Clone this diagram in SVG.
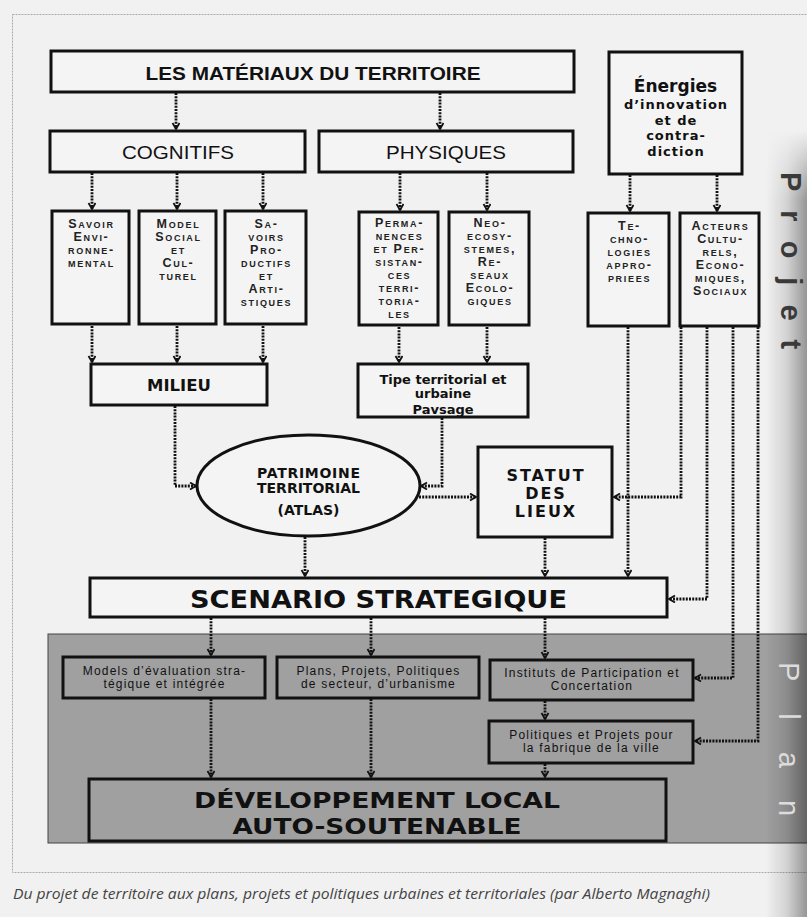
<svg xmlns="http://www.w3.org/2000/svg" width="807" height="917" viewBox="0 0 807 917">
<defs>
<style>
.box{fill:#f4f4f4;stroke:#111;stroke-width:3}
.gbox{fill:none;stroke:#111;stroke-width:3}
.con{fill:none;stroke:#111;stroke-width:2.8;stroke-dasharray:2 1.2}
.sc{font-family:"Liberation Sans",Arial,sans-serif;font-weight:bold;font-size:12.5px;font-variant:small-caps;letter-spacing:1.7px;text-anchor:middle;fill:#222}
.b{font-family:"DejaVu Sans",Verdana,sans-serif;font-weight:bold;text-anchor:middle;fill:#111}
.t{font-family:"Liberation Sans",Arial,sans-serif;text-anchor:middle;fill:#111}
.sm{font-family:"Liberation Sans",Arial,sans-serif;font-size:12px;letter-spacing:1.2px;text-anchor:middle;fill:#111}
.side{font-family:"Liberation Sans",Arial,sans-serif;font-size:29px}
.en{font-size:13px;letter-spacing:1px}
</style>
<marker id="ah" markerUnits="userSpaceOnUse" markerWidth="10" markerHeight="10" refX="7" refY="4" orient="auto"><path d="M1,0.5 L7,4 L1,7.5" fill="none" stroke="#111" stroke-width="1.8"/></marker>
<linearGradient id="shade" x1="0" y1="0" x2="1" y2="0"><stop offset="0" stop-color="#000" stop-opacity="0"/><stop offset="0.5" stop-color="#000" stop-opacity="0.12"/><stop offset="1" stop-color="#000" stop-opacity="0.38"/></linearGradient>
<linearGradient id="vfade" gradientUnits="userSpaceOnUse" x1="0" y1="130" x2="0" y2="200"><stop offset="0" stop-color="#fff" stop-opacity="0"/><stop offset="1" stop-color="#fff" stop-opacity="1"/></linearGradient>
<mask id="mfade"><rect x="760" y="0" width="47" height="917" fill="url(#vfade)"/></mask>
</defs>

<rect width="807" height="917" fill="#f1f1f1"/>
<rect x="12.5" y="14.5" width="800" height="858" fill="none" stroke="#aaa" stroke-width="1" stroke-dasharray="2 1"/>
<rect id="plan-zone" x="48" y="634" width="765" height="209" fill="#a0a0a0" stroke="#444" stroke-width="1"/>
<rect x="766" y="0" width="41" height="917" fill="url(#shade)" mask="url(#mfade)"/>
<text class="side" fill="#3a3a3a" font-weight="bold" letter-spacing="19" transform="translate(781,172) rotate(90)">Projet</text>
<text class="side" fill="#dcdcdc" letter-spacing="32" transform="translate(779,662) rotate(90)">Plan</text>

<g id="connectors">
<path class="con" marker-end="url(#ah)" d="M176,93 V129"/>
<path class="con" marker-end="url(#ah)" d="M440,93 V129"/>
<path class="con" marker-end="url(#ah)" d="M92,173 V209"/>
<path class="con" marker-end="url(#ah)" d="M177,173 V209"/>
<path class="con" marker-end="url(#ah)" d="M263,173 V209"/>
<path class="con" marker-end="url(#ah)" d="M400,173 V210"/>
<path class="con" marker-end="url(#ah)" d="M487,173 V210"/>
<path class="con" marker-end="url(#ah)" d="M630,175 V211"/>
<path class="con" marker-end="url(#ah)" d="M717,175 V211"/>
<path class="con" marker-end="url(#ah)" d="M92,326 V362"/>
<path class="con" marker-end="url(#ah)" d="M177,326 V362"/>
<path class="con" marker-end="url(#ah)" d="M263,326 V362"/>
<path class="con" marker-end="url(#ah)" d="M399,327 V362"/>
<path class="con" marker-end="url(#ah)" d="M487,327 V362"/>
<path class="con" marker-end="url(#ah)" d="M175,406 V486 H196"/>
<path class="con" marker-end="url(#ah)" d="M442,418 V486 H421"/>
<path class="con" marker-end="url(#ah)" d="M419,497 H476"/>
<path class="con" marker-end="url(#ah)" d="M305,537 V576"/>
<path class="con" marker-end="url(#ah)" d="M545,538 V576"/>
<path class="con" marker-end="url(#ah)" d="M628,327 V576"/>
<path class="con" marker-end="url(#ah)" d="M681,327 V497 H614"/>
<path class="con" marker-end="url(#ah)" d="M707,327 V599 H669"/>
<path class="con" marker-end="url(#ah)" d="M733,327 V678 H695"/>
<path class="con" marker-end="url(#ah)" d="M758,327 V741 H695"/>
<path class="con" marker-end="url(#ah)" d="M211,618 V655"/>
<path class="con" marker-end="url(#ah)" d="M371,618 V655"/>
<path class="con" marker-end="url(#ah)" d="M545,618 V658"/>
<path class="con" marker-end="url(#ah)" d="M211,699 V777"/>
<path class="con" marker-end="url(#ah)" d="M371,699 V777"/>
<path class="con" marker-end="url(#ah)" d="M545,701 V719"/>
<path class="con" marker-end="url(#ah)" d="M545,764 V777"/>
</g>

<g id="n-materiaux"><rect class="box" x="51" y="51" width="523" height="41"/>
<text class="t" x="313" y="80" font-size="19" font-weight="bold" textLength="335" lengthAdjust="spacingAndGlyphs">LES MATÉRIAUX DU TERRITOIRE</text></g>
<g id="n-cognitifs"><rect class="box" x="50" y="131" width="255" height="41"/>
<text class="t" x="178" y="159" font-size="19" textLength="112" lengthAdjust="spacingAndGlyphs">COGNITIFS</text></g>
<g id="n-physiques"><rect class="box" x="319" y="131" width="254" height="41"/>
<text class="t" x="446" y="159" font-size="19" textLength="120" lengthAdjust="spacingAndGlyphs">PHYSIQUES</text></g>
<g id="n-energies"><rect class="box" x="609" y="52" width="133" height="122"/>
<text class="b" x="675.5" y="92" font-size="17">Énergies</text>
<text class="b en" x="676" y="109">d’innovation</text>
<text class="b en" x="676" y="124.5">et de</text>
<text class="b en" x="676" y="140">contra-</text>
<text class="b en" x="676" y="155.5">diction</text></g>

<g id="n-savoir"><rect class="box" x="52" y="211" width="77" height="113"/>
<text class="sc" x="91.5" y="228">Savoir</text><text class="sc" x="91.5" y="241">Envi-</text><text class="sc" x="91.5" y="254">ronne-</text><text class="sc" x="91.5" y="267">mental</text></g>
<g id="n-model"><rect class="box" x="139" y="211" width="77" height="113"/>
<text class="sc" x="178.5" y="228">Model</text><text class="sc" x="178.5" y="241">Social</text><text class="sc" x="178.5" y="254">et</text><text class="sc" x="178.5" y="267">Cul-</text><text class="sc" x="178.5" y="280">turel</text></g>
<g id="n-savoirs"><rect class="box" x="225" y="211" width="81" height="113"/>
<text class="sc" x="266.5" y="228">Sa-</text><text class="sc" x="266.5" y="241">voirs</text><text class="sc" x="266.5" y="254">Pro-</text><text class="sc" x="266.5" y="267">ductifs</text><text class="sc" x="266.5" y="280">et</text><text class="sc" x="266.5" y="293">Arti-</text><text class="sc" x="266.5" y="306">stiques</text></g>
<g id="n-permanences"><rect class="box" x="359" y="212" width="79" height="113"/>
<text class="sc" x="399.5" y="227">Perma-</text><text class="sc" x="399.5" y="240">nences</text><text class="sc" x="399.5" y="253">et Per-</text><text class="sc" x="399.5" y="266">sistan-</text><text class="sc" x="399.5" y="279">ces</text><text class="sc" x="399.5" y="292">terri-</text><text class="sc" x="399.5" y="305">toria-</text><text class="sc" x="399.5" y="318">les</text></g>
<g id="n-neo"><rect class="box" x="449" y="212" width="80" height="113"/>
<text class="sc" x="490" y="227">Neo-</text><text class="sc" x="490" y="240">ecosy-</text><text class="sc" x="490" y="253">stemes,</text><text class="sc" x="490" y="266">Re-</text><text class="sc" x="490" y="279">seaux</text><text class="sc" x="490" y="292">Ecolo-</text><text class="sc" x="490" y="305">giques</text></g>
<g id="n-techno"><rect class="box" x="588" y="213" width="81" height="113"/>
<text class="sc" x="629.5" y="230">Te-</text><text class="sc" x="629.5" y="243">chno-</text><text class="sc" x="629.5" y="256">logies</text><text class="sc" x="629.5" y="269">appro-</text><text class="sc" x="629.5" y="282">priees</text></g>
<g id="n-acteurs"><rect class="box" x="680" y="213" width="79" height="113"/>
<text class="sc" x="720.5" y="230">Acteurs</text><text class="sc" x="720.5" y="243">Cultu-</text><text class="sc" x="720.5" y="256">rels,</text><text class="sc" x="720.5" y="269">Econo-</text><text class="sc" x="720.5" y="282">miques,</text><text class="sc" x="720.5" y="295">Sociaux</text></g>

<g id="n-milieu"><rect class="box" x="91" y="364" width="176" height="41"/>
<text class="b" x="179" y="391" font-size="16.5">MILIEU</text></g>
<g id="n-tipe"><rect class="box" x="358" y="364" width="170" height="53"/>
<text class="b" x="443" y="384" font-size="13">Tipe territorial et</text>
<text class="b" x="443" y="398" font-size="13">urbaine</text>
<text class="b" x="443" y="414" font-size="13">Pavsage</text></g>
<g id="n-patrimoine"><ellipse cx="308.5" cy="485.5" rx="111.5" ry="50.5" fill="#f4f4f4" stroke="#111" stroke-width="3"/>
<text class="b" x="308.5" y="478" font-size="14" textLength="103">PATRIMOINE</text>
<text class="b" x="308.5" y="493" font-size="14" textLength="103">TERRITORIAL</text>
<text class="b" x="308.5" y="515" font-size="14">(ATLAS)</text></g>
<g id="n-statut"><rect class="box" x="478" y="447" width="134" height="90"/>
<text class="b" x="546" y="481" font-size="16" letter-spacing="2">STATUT</text>
<text class="b" x="546" y="499" font-size="16" letter-spacing="2">DES</text>
<text class="b" x="546" y="517" font-size="16" letter-spacing="2">LIEUX</text></g>
<g id="n-scenario"><rect class="box" x="90" y="578" width="577" height="39"/>
<text class="b" x="378.5" y="608" font-size="25" textLength="377" lengthAdjust="spacingAndGlyphs">SCENARIO STRATEGIQUE</text></g>

<g id="n-models"><rect class="gbox" x="63" y="657" width="202" height="41"/>
<text class="sm" x="164.5" y="675">Models d’évaluation stra-</text>
<text class="sm" x="164.5" y="688">tégique et intégrée</text></g>
<g id="n-plans"><rect class="gbox" x="277" y="657" width="202" height="41"/>
<text class="sm" x="378.5" y="675">Plans, Projets, Politiques</text>
<text class="sm" x="378.5" y="688">de secteur, d’urbanisme</text></g>
<g id="n-instituts"><rect class="gbox" x="490" y="660" width="203" height="40"/>
<text class="sm" x="592" y="677">Instituts de Participation et</text>
<text class="sm" x="592" y="690">Concertation</text></g>
<g id="n-politiques"><rect class="gbox" x="489" y="721" width="204" height="42"/>
<text class="sm" x="591.5" y="739">Politiques et Projets pour</text>
<text class="sm" x="591.5" y="752">la fabrique de la ville</text></g>
<g id="n-developpement"><rect class="gbox" x="89" y="779" width="577" height="62"/>
<text class="b" x="377" y="808" font-size="22" textLength="366" lengthAdjust="spacingAndGlyphs">DÉVELOPPEMENT LOCAL</text>
<text class="b" x="377" y="834" font-size="22" textLength="289" lengthAdjust="spacingAndGlyphs">AUTO-SOUTENABLE</text></g>

<text x="13" y="899" font-family="'Open Sans','Liberation Sans',sans-serif" font-style="italic" font-size="15" fill="#444" textLength="697" lengthAdjust="spacingAndGlyphs">Du projet de territoire aux plans, projets et politiques urbaines et territoriales (par Alberto Magnaghi)</text>
</svg>
